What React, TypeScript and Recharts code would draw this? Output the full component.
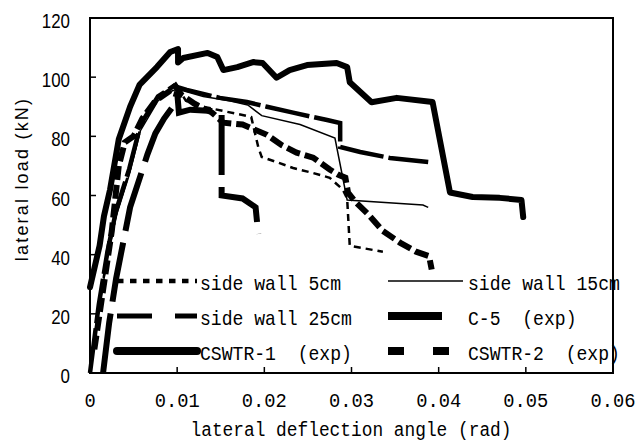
import React from "react";
import { LineChart, Line, XAxis, YAxis, ReferenceArea, Legend } from "recharts";

const xTicks = [0, 0.01, 0.02, 0.03, 0.04, 0.05, 0.06];
const yTicks = [0, 20, 40, 60, 80, 100, 120];

// side wall 5cm (dotted)
const sw5X = [0, 0.001, 0.002, 0.003, 0.0045, 0.0058, 0.0078, 0.0091, 0.0098, 0.011, 0.013, 0.0157, 0.0175, 0.0185, 0.0193, 0.0197, 0.0214, 0.0233, 0.0256, 0.0275, 0.029, 0.0295, 0.0298, 0.0336];
const sw5Y = [0, 22, 40, 54, 68, 83, 93, 96, 98, 92, 90, 88.3, 87.2, 86.5, 76.4, 73, 71.3, 69.3, 67.6, 66, 62, 59, 43, 41];

// side wall 15cm (thin)
const sw15X = [0, 0.001, 0.002, 0.003, 0.0045, 0.0058, 0.0078, 0.0091, 0.01, 0.013, 0.016, 0.0181, 0.0197, 0.0241, 0.0281, 0.0295, 0.0382, 0.0388];
const sw15Y = [0, 21, 39, 53, 67, 82, 92, 95, 96, 93.5, 92, 90.6, 87, 84, 79.4, 58.5, 56.8, 56];

// side wall 25cm (long dash)
const sw25X = [0, 0.001, 0.002, 0.003, 0.0045, 0.0058, 0.0078, 0.0091, 0.0096, 0.0111, 0.0149, 0.018, 0.0203, 0.0233, 0.0272, 0.0287, 0.0287, 0.031, 0.0344, 0.0388];
const sw25Y = [0, 23, 41, 55, 69, 84, 93.5, 96, 97, 95.7, 93, 91.6, 90, 88, 85.5, 84.5, 76.4, 74.7, 72.7, 71.3];

// C-5 (exp)
const c5X = [0.0015, 0.0022, 0.003, 0.0046, 0.0066, 0.0075, 0.0085, 0.0095, 0.01, 0.0102, 0.0115, 0.0146, 0.0151, 0.0151, 0.0175, 0.019, 0.0193];
const c5Y = [0, 17, 32, 56, 74, 81, 86, 90, 95, 88, 89, 88.5, 88, 60, 59, 56, 47];

// CSWTR-1 (exp)
const t1X = [0, 0.0011, 0.0016, 0.0023, 0.0033, 0.0046, 0.0057, 0.0077, 0.0092, 0.0101, 0.0101, 0.0107, 0.0135, 0.0146, 0.0153, 0.0169, 0.0187, 0.0198, 0.0214, 0.0229, 0.0249, 0.0283, 0.0295, 0.0298, 0.0323, 0.0352, 0.0393, 0.0413, 0.0439, 0.047, 0.0495, 0.0497];
const t1Y = [29, 43, 53, 62, 79, 90, 97.5, 103.5, 108.5, 109.5, 105, 106.5, 108.2, 106.8, 102.4, 103.4, 105.1, 104.8, 99.8, 102.4, 104.1, 104.8, 103.4, 98.3, 91.5, 93, 91.6, 61, 59.5, 59.2, 58.5, 52.7];

// CSWTR-2 (exp)
const t2X = [0.0005, 0.0015, 0.0025, 0.0033, 0.004, 0.005, 0.006, 0.0075, 0.009, 0.0098, 0.0105, 0.012, 0.014, 0.0153, 0.0175, 0.0203, 0.022, 0.0237, 0.0256, 0.0275, 0.0285, 0.0293, 0.0296, 0.0304, 0.0318, 0.0336, 0.0356, 0.0374, 0.0389, 0.0392];
const t2Y = [8, 28, 48, 70, 78, 80, 86, 92, 95, 97, 94, 91, 88, 84.6, 84, 80.5, 77, 74.5, 72.8, 68.8, 67, 66, 61, 58, 54, 48, 44, 41, 39.5, 35];

const toPoints = (xs: number[], ys: number[]) => xs.map((x, i) => ({ x, y: ys[i] }));

const series = [
  { name: "side wall 5cm", data: toPoints(sw5X, sw5Y), width: 2.5, dash: "7 5", cap: "butt", lw: 4.5, ldash: "6.5 6.5", col: 0, row: 0 },
  { name: "side wall 15cm", data: toPoints(sw15X, sw15Y), width: 1.5, dash: undefined, cap: "butt", lw: 1.5, ldash: undefined, col: 1, row: 0 },
  { name: "side wall 25cm", data: toPoints(sw25X, sw25Y), width: 4.5, dash: "45 5", cap: "butt", lw: 5, ldash: "35 23", col: 0, row: 1 },
  { name: "C-5  (exp)", data: toPoints(c5X, c5Y), width: 6, dash: "60 12", cap: "butt", lw: 8, ldash: "54 40", col: 1, row: 1 },
  { name: "CSWTR-1  (exp)", data: toPoints(t1X, t1Y), width: 6, dash: undefined, cap: "round", lw: 8, ldash: undefined, col: 0, row: 2 },
  { name: "CSWTR-2  (exp)", data: toPoints(t2X, t2Y), width: 6, dash: "14 5", cap: "butt", lw: 8, ldash: "16 29", col: 1, row: 2 },
];

const MONO = "'Liberation Mono', monospace";
const SANS = "'Liberation Sans', Arial, sans-serif";

const legendCols = [{ x1: 117, x2: 197, tx: 200 }, { x1: 388, x2: 463, tx: 468 }];
const legendRows = [283, 318, 353];

// narrow, tall glyphs like the original's condensed font
const Narrow = ({ x, y, text, size, cell, family, anchor }: any) => (
  <text
    x={x}
    y={y}
    textAnchor={anchor || "start"}
    fontFamily={family}
    fontSize={size}
    textLength={text.length * cell}
    lengthAdjust="spacingAndGlyphs"
    style={{ whiteSpace: "pre" }}
    fill="#000"
  >
    {text}
  </text>
);

const XTick = ({ x, y, payload }: any) => (
  <g>
    <line x1={x} y1={y} x2={x} y2={y - 6} stroke="#000" strokeWidth={1.5} />
    <Narrow x={x} y={y + 34} text={String(payload.value)} size={20} cell={11.25} family={MONO} anchor="middle" />
  </g>
);

const YTick = ({ x, y, payload }: any) => (
  <g>
    <line x1={x} y1={y} x2={x + 6} y2={y} stroke="#000" strokeWidth={1.5} />
    <Narrow x={x - 20} y={y + 10} text={String(payload.value)} size={21} cell={9.4} family={SANS} anchor="end" />
  </g>
);

const renderLegend = () => (
  <svg width={637} height={446} style={{ position: "absolute", left: 0, top: 0 }}>
    {series.map((s) => {
      const c = legendCols[s.col];
      const y = legendRows[s.row];
      return (
        <g key={s.name}>
          <line
            x1={c.x1}
            x2={c.x2}
            y1={y - 2}
            y2={y - 2}
            stroke="#000"
            strokeWidth={s.lw}
            strokeDasharray={s.ldash}
            strokeLinecap={s.cap as any}
          />
          <Narrow x={c.tx} y={y + 7} text={s.name} size={21} cell={10.85} family={MONO} />
        </g>
      );
    })}
  </svg>
);

export default function App() {
  return (
    <div style={{ position: "absolute", left: 0, top: 0, width: 637, height: 446, background: "#fff" }}>
      <LineChart width={637} height={446} margin={{ top: 18, right: 24, bottom: 0, left: 0 }}>
        <XAxis
          dataKey="x"
          type="number"
          domain={[0, 0.06]}
          ticks={xTicks}
          allowDuplicatedCategory={false}
          height={73}
          tickSize={0}
          tickMargin={0}
          tickLine={false}
          tick={<XTick />}
          axisLine={{ stroke: "#000", strokeWidth: 2 }}
          label={{
            content: () => (
              <Narrow x={351} y={436} text="lateral deflection angle (rad)" size={20} cell={10.7} family={MONO} anchor="middle" />
            ),
          }}
        />
        <YAxis
          type="number"
          domain={[0, 120]}
          ticks={yTicks}
          width={90}
          tickSize={0}
          tickMargin={0}
          tickLine={false}
          tick={<YTick />}
          axisLine={{ stroke: "#000", strokeWidth: 2 }}
          label={{
            content: () => (
              <text
                x={22}
                y={179}
                transform="rotate(-90 22 179)"
                textAnchor="middle"
                dominantBaseline="central"
                fontFamily={SANS}
                fontSize={18}
                letterSpacing={2.2}
                fill="#000"
              >
                lateral load (kN)
              </text>
            ),
          }}
        />
        <ReferenceArea x1={0} x2={0.06} y1={0} y2={120} fill="none" fillOpacity={0} stroke="#000" strokeWidth={2} />
        {series.map((s) => (
          <Line
            key={s.name}
            data={s.data}
            dataKey="y"
            name={s.name}
            type="linear"
            stroke="#000"
            strokeWidth={s.width}
            strokeDasharray={s.dash}
            strokeLinecap={s.cap as any}
            strokeLinejoin={s.cap === "round" ? "round" : "miter"}
            dot={false}
            activeDot={false}
            isAnimationActive={false}
          />
        ))}
        <Legend
          layout="horizontal"
          verticalAlign="middle"
          align="center"
          content={renderLegend}
          wrapperStyle={{ position: "absolute", left: 0, top: 0, width: 637, height: 446, pointerEvents: "none" }}
        />
      </LineChart>
    </div>
  );
}
